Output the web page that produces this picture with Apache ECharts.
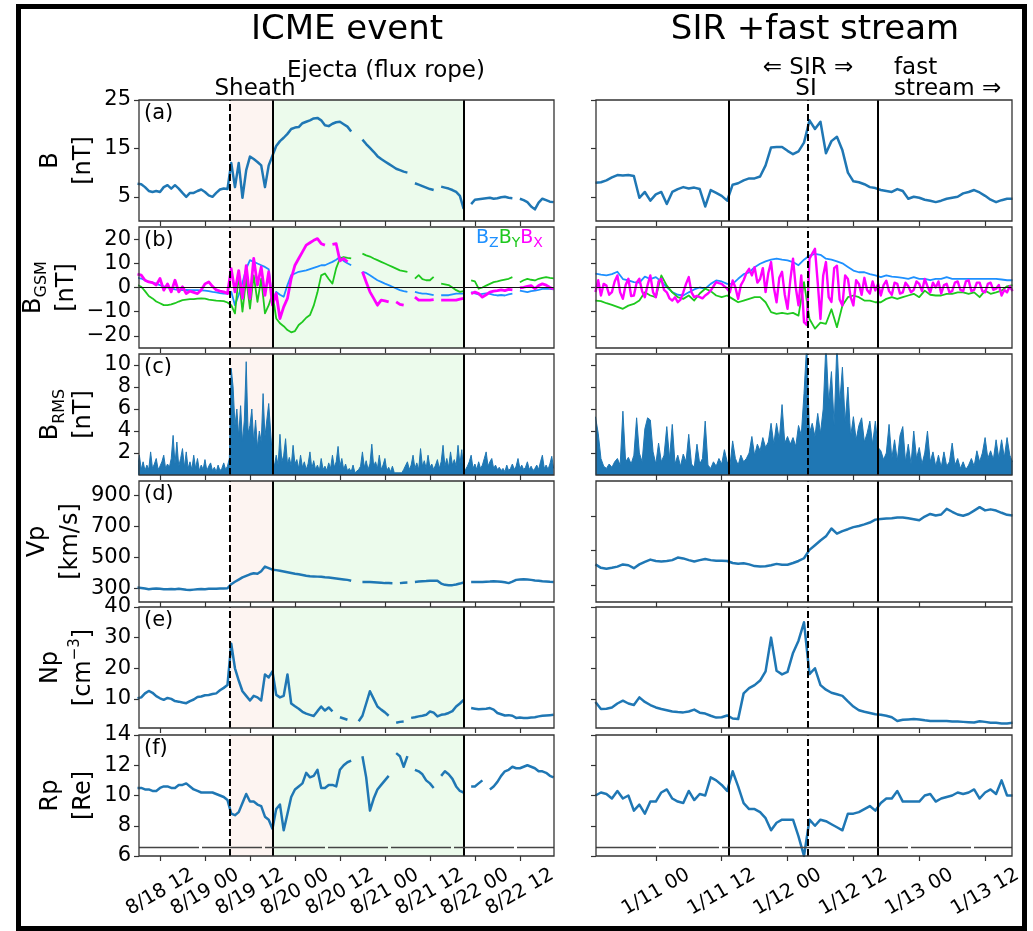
<!DOCTYPE html>
<html>
<head>
<meta charset="utf-8">
<script src="https://cdn.jsdelivr.net/npm/echarts@6/dist/echarts.min.js"></script>
<style>
  html, body { margin: 0; padding: 0; background: #fff; }
  #chart { width: 1033px; height: 931px; }
</style>
</head>
<body>
<div id="chart"></div>
<script>
// ---------------------------------------------------------------
// Solar-wind overview: ICME event (left) and SIR + fast stream (right)
// Time is in hours: ICME side counted from 8/18 00:00, SIR side from 1/11 00:00
// ---------------------------------------------------------------

const ICME_T0 = 6;     // first sample hour (ICME side), 1 h cadence
const SIR_T0 = -11;    // first sample hour (SIR side), 1 h cadence
const HALF_STEP = 0.5; // cadence of the half-hour series (h)

const icmeXRange = [6.4, 117.1];
const sirXRange = [-10.9, 64.9];

// event boundaries (hours)
const icmeBounds = { sheathStart: 30.7, ejectaStart: 42.05, ejectaEnd: 93.15 };
const sirBounds = { sirStart: 13.2, streamInterface: 27.6, fastStart: 40.5 };

// x tick positions and labels
const icmeTickHours = [12, 24, 36, 48, 60, 72, 84, 96, 108];
const icmeTickLabels = ['8/18 12', '8/19 00', '8/19 12', '8/20 00', '8/20 12', '8/21 00', '8/21 12', '8/22 00', '8/22 12'];
const sirTickHours = [0, 12, 24, 36, 48, 60];
const sirTickLabels = ['1/11 00', '1/11 12', '1/12 00', '1/12 12', '1/13 00', '1/13 12'];

// y tick values per row
const bTicks = [5, 15, 25];
const bgsmTicks = [-20, -10, 0, 10, 20];
const brmsTicks = [2, 4, 6, 8, 10];
const vpIcmeTicks = [300, 500, 700, 900];
const vpSirTicks = [400, 600, 800];
const npTicks = [10, 20, 30, 40];
const rpTicks = [6, 8, 10, 12, 14];

// ---------------- (a) |B| [nT] ----------------
const bIcme = [
  7.7, 7.6, 7.0, 6.2, 6.0, 6.2, 6.0, 7.0, 7.4, 6.7,
  7.4, 6.7, 5.8, 5.0, 5.8, 5.8, 6.2, 6.5, 6.0, 5.3,
  5.0, 5.8, 6.5, 6.7, 6.6, 12.0, 7.0, 12.0, 4.8, 10.5,
  13.3, 12.8, 12.2, 11.5, 7.0, 11.5, 13.5, 15.5, 16.5, 17.2,
  18.0, 19.0, 19.3, 19.4, 20.2, 20.5, 20.8, 21.2, 21.3, 20.8,
  19.8, 19.6, 20.1, 20.4, 20.5, 20.0, 19.5, 18.5, null, null,
  16.8, 15.9, 15.1, 14.3, 13.4, 12.8, 12.3, 11.8, 11.3, 10.8,
  10.5, 10.2, 10.0, null, 7.8, 7.5, 7.2, 6.9, 6.6, 6.4,
  null, 7.1, 6.9, 6.7, 6.4, 6.0, 5.2, 2.5, null, 3.5,
  4.4, 4.5, 4.6, 4.7, 4.8, 4.6, 4.7, 4.9, 5.0, 4.8,
  4.7, null, 4.6, 4.3, 3.9, 3.0, 2.4, 3.8, 4.6, 4.3,
  4.0, 3.9
];
const bSir = [
  7.9, 8.0, 8.4, 9.0, 9.5, 9.4, 9.5, 9.3, 4.8, 6.0,
  4.2, 5.5, 6.0, 3.5, 6.0, 6.6, 7.0, 6.7, 6.9, 6.6,
  3.0, 6.4, 5.8, 5.2, 4.2, 7.5, 7.8, 8.4, 8.8, 8.8,
  9.2, 11.5, 15.2, 15.3, 15.3, 14.5, 13.8, 14.4, 16.2, 20.8,
  19.0, 20.5, 14.0, 16.5, 17.4, 14.6, 10.0, 8.2, 8.0, 7.6,
  7.0, 6.8, 6.4, 6.2, 6.0, 6.6, 6.2, 4.6, 5.0, 4.8,
  4.4, 4.2, 3.9, 4.2, 4.6, 4.8, 5.0, 5.7, 6.0, 6.4,
  5.9, 5.2, 4.4, 3.9, 4.3, 4.6, 4.6
];

// ---------------- (b) B_GSM components [nT] ----------------
const bzIcme = [
  4.0, 3.7, 3.0, 2.3, 2.0, 1.6, 1.0, 0.5, 0.0, -0.4,
  -0.8, -1.1, -1.1, -1.0, -1.1, -1.1, -1.1, -1.2, -1.3, -1.5,
  -1.8, -2.0, -2.3, -2.5, -2.5, -1.8, -7.3, -3.0, 2.0, 7.8,
  11.3, 10.6, 9.9, 9.2, 8.5, 7.5, -6.0, -1.8, -3.0, -3.8,
  1.0, 5.1, 5.8, 6.5, 6.8, 7.1, 7.6, 8.1, 8.6, 9.2,
  9.2, 9.9, 10.6, 11.5, 12.6, 11.0, 10.0, 9.2, null, null,
  6.5, 6.0, 5.1, 4.0, 3.0, 2.3, 1.6, 1.0, 0.3, -0.4,
  -1.1, -1.5, -1.8, null, -1.8, -2.2, -2.5, -2.5, -2.8, -3.2,
  null, -3.2, -3.2, -3.2, -2.8, -2.5, -2.5, -2.5, null, -1.9,
  -2.4, -2.9, -2.6, -2.4, -2.6, -3.0, -3.3, -3.1, -3.3, -2.8,
  -2.5, null, -1.3, -1.6, -1.9, -1.5, -1.3, -1.0, -0.6, -0.6,
  -0.6, -0.8
];
const byIcme = [
  1.0, 0.3, -1.5, -3.5, -4.5, -5.8, -6.5, -7.3, -7.3, -7.0,
  -6.5, -5.8, -5.2, -5.0, -4.8, -4.8, -4.6, -4.5, -4.6, -5.0,
  -5.2, -5.4, -5.5, -5.6, -6.2, -7.3, -10.7, 5.0, -10.0, 3.7,
  -8.7, 5.0, -5.9, 3.7, -10.7, -7.3, -2.5, -12.8, -14.8, -16.0,
  -17.6, -18.5, -18.0, -15.5, -14.2, -12.5, -11.4, -7.5, -2.0, 5.0,
  5.8, 3.5, 1.6, 8.0, 12.0, 12.6, 12.2, 12.0, null, null,
  14.0, 13.3, 12.8, 12.0, 11.3, 10.6, 9.9, 9.2, 8.5, 7.8,
  7.1, 6.8, 6.5, null, 3.7, 5.1, 3.5, 3.0, 3.0, 4.4,
  null, 1.6, 1.3, 1.0, 0.0, -1.1, -1.8, -1.5, null, 2.9,
  2.5, -0.5, 0.0, 0.8, 1.5, 2.2, 2.5, 2.9, 3.3, 3.6,
  4.3, null, 2.2, 3.0, 3.6, 3.2, 2.9, 3.6, 4.0, 4.3,
  4.0, 3.8
];
const bxIcme = [
  5.5, 5.1, 3.0, 2.3, 2.0, 1.0, 3.7, -1.1, 1.5, -1.8,
  3.0, -1.8, 0.3, -2.5, -1.5, -2.0, -2.5, -1.0, 1.5, 2.3,
  0.5, -1.0, -1.5, -1.8, -2.5, 7.8, -1.8, 7.0, -4.5, 9.0,
  -4.5, 12.0, 1.0, 8.5, -3.2, 6.5, -7.3, -2.5, -12.8, -8.0,
  -4.5, 3.7, 9.2, 12.0, 14.7, 17.5, 18.5, 19.5, 20.2, 18.1,
  17.5, null, 17.8, 18.1, 11.0, 12.0, 10.6, null, null, null,
  6.5, 2.3, -1.8, -4.5, -7.3, -5.2, -5.5, -5.9, null, -5.9,
  -7.0, -7.3, null, null, -4.0, -5.2, -5.2, -5.2, -5.2, -5.0,
  null, -5.2, -5.2, -5.2, -5.2, -5.2, -4.8, -4.5, null, -2.6,
  -1.9, -2.5, -4.0, -3.0, -1.9, -1.5, -1.3, -1.0, -1.3, -0.8,
  -1.0, null, -0.2, 0.1, 0.5, 0.8, -0.5, 0.8, 1.5, 1.0,
  0.0, -0.6
];
const bzSir = [
  5.7, 5.3, 5.0, 5.5, 6.5, 3.5, 2.9, 2.2, 2.0, 4.5,
  3.5, 4.3, 2.5, 0.2, -1.9, -3.0, -3.3, -2.0, -0.8, 0.0,
  -0.5, 1.5, 2.9, 2.5, 1.5, 1.5, 3.6, 5.5, 6.2, 8.4,
  9.8, 10.8, 11.5, 11.9, 11.5, 11.2, 10.5, 9.2, 11.5, 13.2,
  13.9, 13.5, 11.9, 11.5, 10.8, 10.0, 8.5, 7.0, 6.3, 6.3,
  5.5, 5.0, 4.3, 5.0, 4.5, 4.3, 4.0, 3.6, 4.3, 3.6,
  3.6, 3.0, 3.6, 3.6, 4.3, 3.6, 3.6, 3.6, 3.6, 3.6,
  3.6, 3.6, 3.6, 3.6, 3.3, 3.0, 3.0
];
const bySir = [
  -5.4, -5.6, -6.5, -7.2, -8.0, -8.8, -7.5, -6.8, -5.4, -2.0,
  -3.3, -4.0, 5.0, 0.8, -2.0, -4.0, -4.7, -3.3, -5.4, -2.5,
  -0.5, -1.5, -3.3, -4.0, -3.3, -4.7, -6.1, -5.4, -4.7, -4.0,
  -4.0, -6.1, -10.2, -10.9, -10.5, -10.9, -10.5, -11.6, 2.2, -13.0,
  -17.0, -14.5, -15.0, -9.0, -16.4, -7.4, -4.0, -3.3, -4.0, -5.4,
  -5.4, -6.1, -6.1, -4.7, -4.0, -4.7, -4.0, -3.3, -2.6, -4.0,
  -1.3, -3.0, -3.3, -3.3, -2.6, -2.6, -2.0, -2.0, -2.6, -2.0,
  -4.0, -1.3, -2.6, -2.0, -1.3, 0.5, 1.0
];
// Bx on the SIR side at half-hour cadence
const bxSir = [
  -1.9, 3.0, -3.3, 1.5, 0.8, -3.0, -1.9, 2.5, 5.0, -2.0,
  -4.7, 1.0, 3.6, -3.5, -3.3, 2.0, 3.6, -1.5, -4.0, 1.0,
  5.0, -2.0, -4.0, 2.5, 3.6, -1.0, -2.0, -4.5, -5.4, -4.0,
  -6.1, -5.0, -2.0, 1.5, 4.3, -2.0, -4.0, -3.5, -4.0, -4.5,
  -3.3, -2.5, -1.3, 0.5, 2.2, 1.8, 1.5, 0.5, -0.5, -2.0,
  2.9, 0.0, -4.7, 1.0, 3.0, 6.0, 7.7, 5.0, 8.4, 2.0,
  3.5, 8.0, -1.9, 6.0, 10.5, 0.0, -6.1, 4.0, 6.5, -3.0,
  -8.8, 3.0, 11.9, 0.0, -7.4, 5.0, -14.3, -15.5, 11.9, 14.0,
  16.0, 2.0, -13.0, 5.0, 10.5, -4.0, -6.0, 8.0, 9.0, -5.0,
  -7.4, 5.0, 3.5, -4.0, -7.4, 3.0, 1.5, -3.0, 4.0, -1.0,
  -2.5, 2.5, -1.2, 1.5, -3.3, 1.0, 2.8, -1.5, -3.0, 2.0,
  1.5, -2.5, -2.0, 2.0, 0.5, -2.0, -1.0, 2.5, 1.5, -1.5,
  3.5, 0.5, -2.0, 2.0, 0.0, 2.5, -2.5, 1.0, 1.5, -2.0,
  -1.5, 2.0, 2.5, -1.0, -1.5, 2.5, 3.0, -1.5, -1.0, 2.0,
  2.0, -1.5, -2.0, 1.5, 2.0, -1.0, -0.5, 1.0, -3.3, -1.0,
  -2.0, 0.5, -1.5
];

// ---------------- (c) B_RMS [nT], half-hour cadence ----------------
const rmsIcme = [
  0.6, 1.8, 0.5, 1.2, 0.4, 0.9, 0.5, 2.1, 0.6, 1.0,
  1.5, 0.5, 0.8, 1.2, 1.8, 0.6, 1.0, 0.7, 1.5, 3.6,
  1.0, 3.0, 0.8, 1.5, 2.4, 0.7, 2.1, 0.6, 1.2, 0.5,
  1.8, 0.6, 1.5, 0.4, 0.9, 0.5, 1.4, 0.4, 0.8, 1.1,
  0.4, 0.7, 0.3, 0.9, 0.4, 0.6, 1.1, 0.5, 0.8, 1.5,
  9.7, 8.0, 4.5, 6.0, 3.5, 6.3, 3.0, 5.0, 10.3, 3.8,
  4.5, 6.0, 3.0, 5.0, 2.5, 4.0, 3.0, 7.4, 3.5, 5.0,
  6.5, 4.0, 1.5, 0.8, 1.8, 0.9, 3.7, 1.2, 1.8, 3.3,
  1.0, 1.6, 0.8, 2.7, 1.0, 1.4, 0.6, 1.8, 0.7, 1.2,
  0.5, 1.0, 2.1, 0.6, 1.3, 0.5, 0.9, 0.4, 1.5, 0.5,
  0.8, 0.4, 1.1, 0.6, 1.8, 0.7, 1.2, 2.6, 0.8, 1.5,
  0.5, 1.0, 0.4, 0.6, 0.3, 0.9, 0.2, 0.3, 0.5, 0.8,
  2.1, 0.7, 1.3, 0.5, 1.0, 2.8, 0.8, 1.2, 0.6, 1.8,
  0.5, 0.9, 1.5, 0.4, 0.7, 0.3, 0.8, 0.2, 0.3, 0.2,
  0.3, 0.2, 0.5, 0.4, 1.2, 0.5, 0.9, 1.8, 0.6, 1.1,
  0.5, 2.4, 0.8, 1.3, 0.6, 1.8, 0.7, 1.0, 0.5, 0.9,
  1.4, 0.6, 1.2, 2.7, 0.8, 1.5, 0.7, 2.1, 0.9, 1.4,
  0.8, 2.7, 1.0, 2.3, 0.3, 0.5, 0.8, 1.2, 1.8, 0.6,
  1.0, 0.5, 1.2, 0.6, 0.9, 1.5, 2.1, 0.8, 1.2, 1.5,
  0.6, 0.9, 0.5, 0.7, 0.4, 0.6, 0.3, 0.9, 0.4, 0.6,
  1.0, 0.5, 0.8, 1.5, 0.6, 0.9, 0.5, 0.7, 1.2, 0.5,
  0.8, 0.4, 0.6, 0.9, 0.5, 1.2, 1.8, 0.6, 0.9, 0.5,
  1.0, 1.7, 0.6
];
const rmsSir = [
  5.3, 3.8, 1.5, 0.8, 0.6, 1.0, 0.7, 1.2, 1.5, 0.9,
  5.8, 1.2, 1.6, 1.0, 1.8, 5.2, 2.0, 1.2, 4.2, 5.2,
  5.0, 2.1, 1.0, 2.9, 1.2, 1.8, 4.4, 1.5, 4.6, 1.0,
  1.8, 0.8, 1.9, 1.2, 3.7, 1.0, 0.7, 2.8, 1.0, 1.5,
  4.9, 0.9, 0.6, 1.2, 0.8, 1.5, 1.0, 2.3, 1.2, 0.8,
  3.1, 1.5, 0.9, 1.8, 1.2, 1.5, 2.0, 3.5, 1.8, 2.8,
  2.2, 3.4, 2.5, 3.0, 4.7, 2.8, 4.7, 3.2, 6.4, 2.9,
  3.5, 2.8, 3.4, 2.6, 4.5, 3.6, 7.4, 12.0, 3.8, 4.7,
  3.5, 5.6, 3.8, 6.0, 12.0, 6.5, 9.4, 4.5, 12.0, 6.5,
  9.8, 4.8, 8.0, 3.5, 5.3, 3.2, 4.5, 5.2, 3.0, 3.8,
  4.9, 2.8, 4.9, 2.5, 2.2, 1.4, 2.0, 4.6, 1.5, 3.2,
  1.3, 3.6, 4.4, 1.2, 2.8, 1.0, 4.0, 1.5, 2.5, 1.0,
  2.0, 4.0, 1.2, 2.1, 0.8, 1.8, 0.7, 2.1, 0.8, 1.2,
  2.9, 0.9, 1.5, 0.6, 1.2, 0.5, 0.9, 1.5, 0.8, 2.2,
  1.2, 2.0, 3.4, 1.5, 2.2, 1.4, 3.2, 1.5, 3.2, 1.6,
  3.4, 1.8, 1.2
];

// ---------------- (d) Vp [km/s] ----------------
const vpIcme = [
  304, 302, 298, 294, 296, 298, 296, 294, 293, 295,
  294, 296, 293, 290, 289, 291, 293, 295, 294, 296,
  297, 296, 298, 299, 300, 326, 342, 356, 370, 380,
  390, 397, 393, 410, 440, 430, 420, 417, 413, 408,
  403, 398, 393, 390, 386, 381, 377, 376, 375, 374,
  371, 369, 366, 363, 360, 357, 354, 348, null, null,
  341, 341, 341, 339, 337, 335, 333, 333, 332, null,
  333, 336, 337, null, 341, 343, 345, 346, 348, 348,
  348, 330, 322, 319, 320, 324, 330, 337, null, 341,
  341, 341, 341, 342, 343, 345, 344, 342, 338, 333,
  343, 354, 356, 358, 356, 354, 350, 348, 345, 344,
  342, 341
];
const vpSir = [
  520, 500, 494, 500, 507, 520, 515, 498, 520, 535,
  548, 540, 537, 540, 545, 560, 555, 545, 537, 545,
  552, 545, 542, 542, 540, 528, 524, 527, 520, 510,
  508, 509, 515, 523, 518, 518, 528, 540, 556, 605,
  632, 660, 684, 730, 700, 715, 726, 738, 745, 754,
  765, 782, 786, 788, 790, 795, 794, 790, 784, 778,
  800, 815, 806, 812, 845, 828, 812, 805, 815, 835,
  855, 836, 842, 835, 822, 810, 806
];

// ---------------- (e) Np [cm^-3] ----------------
const npIcme = [
  10.2, 10.5, 11.8, 12.6, 12.0, 10.9, 10.2, 9.7, 10.3, 10.0,
  9.3, 9.1, 8.8, 8.6, 9.3, 9.8, 10.6, 10.8, 11.2, 11.3,
  11.6, 11.8, 12.8, 13.6, 14.5, 28.0, 20.0, 16.0, 12.5, 11.0,
  9.5, 11.0, 10.5, 9.5, 18.0, 17.0, 19.0, 11.3, 10.5, 11.0,
  18.0, 8.5, 7.6, 6.8, 5.8, 5.2, 4.8, 4.4, 6.0, 7.5,
  6.2, 7.2, 5.9, null, 4.0, 3.6, 3.2, null, null, 2.7,
  4.5, 8.5, 12.5, 10.0, 7.5, 6.5, 5.6, 4.5, null, 2.2,
  2.5, 2.6, null, 3.8, 4.0, 4.3, 4.5, 4.8, 5.9, 5.5,
  4.3, 4.8, 5.0, 5.4, 6.0, 7.5, 8.5, 9.7, null, 7.0,
  6.8, 6.6, 6.7, 6.8, 7.0, 6.5, 5.4, 5.0, 4.6, 4.7,
  4.5, 3.8, 3.9, 3.8, 3.8, 3.9, 4.0, 4.3, 4.5, 4.6,
  4.7, 4.8
];
const npSir = [
  9.0, 6.7, 6.8, 7.2, 8.5, 9.4, 8.5, 8.0, 10.5, 9.0,
  8.0, 7.2, 6.7, 6.3, 5.9, 5.7, 5.6, 5.9, 6.5, 5.5,
  5.2, 4.5, 3.9, 4.0, 4.6, 3.6, 3.4, 11.8, 13.5, 14.5,
  16.0, 19.0, 30.0, 19.2, 18.0, 18.8, 25.0, 29.0, 35.0, 18.1,
  20.0, 14.5, 13.0, 12.0, 11.5, 11.0, 9.2, 7.5, 6.3, 5.8,
  5.4, 5.0, 4.8, 4.5, 4.0, 2.8, 3.2, 3.3, 3.4, 3.3,
  3.0, 2.8, 2.8, 2.8, 2.8, 2.6, 2.6, 2.5, 2.4, 2.3,
  2.7, 2.5, 2.2, 2.2, 2.0, 2.0, 2.2
];

// ---------------- (f) Rp [Re] ----------------
const rpIcme = [
  10.5, 10.5, 10.4, 10.4, 10.3, 10.3, 10.5, 10.6, 10.6, 10.5,
  10.5, 10.7, 10.7, 10.8, 10.6, 10.4, 10.3, 10.2, 10.2, 10.2,
  10.2, 10.1, 10.0, 9.9, 9.7, 8.8, 8.7, 8.9, 9.5, 10.1,
  9.6, 9.6, 9.4, 9.3, 8.6, 8.4, 7.8, 9.1, 9.4, 7.7,
  8.8, 9.9, 10.4, 10.6, 10.8, 11.5, 11.2, 11.3, 11.7, 10.5,
  10.5, 10.7, 10.7, 10.6, 11.7, 12.0, 12.2, 12.3, null, null,
  12.6, 11.2, 9.0, 9.8, 10.4, 10.7, 11.0, 11.3, null, 12.8,
  12.6, 11.9, 12.6, null, 11.7, 11.6, 11.4, 11.0, 10.8, 10.5,
  null, 11.3, 11.6, 11.4, 11.1, 10.6, 10.3, 10.2, null, 10.6,
  10.6, 10.8, 11.0, null, 10.4, 10.6, 10.9, 11.3, 11.6, 11.7,
  11.9, 11.8, 11.8, 11.9, 12.0, 11.9, 11.8, 11.6, 11.6, 11.5,
  11.3, 11.2
];
const rpSir = [
  10.0, 10.2, 10.1, 9.8, 10.3, 9.8, 10.0, 9.0, 9.4, 8.8,
  9.6, 9.6, 10.2, 10.4, 9.8, 9.6, 9.5, 10.3, 9.7, 10.1,
  10.0, 11.2, 11.0, 10.7, 10.3, 11.6, 10.6, 9.5, 9.1, 9.1,
  8.9, 8.5, 7.7, 8.2, 8.4, 8.4, 8.4, 7.3, 6.0, 8.4,
  8.0, 8.4, 8.3, 8.1, 7.9, 7.7, 8.8, 8.8, 8.9, 9.1,
  9.3, 9.0, 9.5, 9.8, 9.8, 10.3, 9.6, 9.6, 9.6, 9.6,
  10.0, 10.1, 9.6, 9.8, 9.9, 10.0, 10.2, 10.1, 10.2, 10.4,
  9.8, 10.2, 10.4, 10.1, 11.0, 10.0, 10.0
];
const rpReference = 6.6; // horizontal reference level in panel (f)

// ---------------------------------------------------------------
// styling / layout
// ---------------------------------------------------------------
const FONT = 'DejaVu Sans';
const LINE_BLUE = '#1f77b4';
const BZ_COLOR = '#1e90ff';
const BY_COLOR = '#1ec81e';
const BX_COLOR = '#ff00ff';
const SHEATH_FILL = '#fdf4f1';
const EJECTA_FILL = '#ecfbec';
const FRAME = '#333333';

const ROW_TOPS = [100, 227, 354, 481, 607, 735];
const ROW_H = 121;
const COLS = [{ left: 139, width: 415 }, { left: 596, width: 416 }];

function toPoints(t0, dt, values) {
  return values.map((v, i) => [t0 + i * dt, v]);
}
function minusFmt(v) {
  return v < 0 ? '\u2212' + Math.abs(v) : String(v);
}

const NAME_RICH = {
  t: { fontSize: 24, fontFamily: FONT, color: '#000', lineHeight: 33 },
  s: { fontSize: 16, fontFamily: FONT, color: '#000', lineHeight: 22, verticalAlign: 'bottom' },
  p: { fontSize: 15, fontFamily: FONT, color: '#000', lineHeight: 20, verticalAlign: 'top' }
};

const MAIN_W = 2.5;

const rows = [
  {
    label: '(a)', name: '{t|B}\n{t|[nT]}',
    y: { min: 0, max: 25, ticks: bTicks },
    icme: [{ data: toPoints(ICME_T0, 1, bIcme), color: LINE_BLUE, width: MAIN_W }],
    sir: [{ data: toPoints(SIR_T0, 1, bSir), color: LINE_BLUE, width: MAIN_W }]
  },
  {
    label: '(b)', name: '{t|B}{s|GSM}\n{t|[nT]}',
    y: { min: -25, max: 25, ticks: bgsmTicks },
    hline: { value: 0, color: '#111', width: 1.2, type: 'solid' },
    icme: [
      { data: toPoints(ICME_T0, 1, bzIcme), color: BZ_COLOR, width: 1.8 },
      { data: toPoints(ICME_T0, 1, byIcme), color: BY_COLOR, width: 1.8 },
      { data: toPoints(ICME_T0, 1, bxIcme), color: BX_COLOR, width: 2.8 }
    ],
    sir: [
      { data: toPoints(SIR_T0, 1, bzSir), color: BZ_COLOR, width: 1.8 },
      { data: toPoints(SIR_T0, 1, bySir), color: BY_COLOR, width: 1.8 },
      { data: toPoints(SIR_T0, HALF_STEP, bxSir), color: BX_COLOR, width: 2.4 }
    ]
  },
  {
    label: '(c)', name: '{t|B}{s|RMS}\n{t|[nT]}',
    y: { min: 0, max: 11, ticks: brmsTicks },
    icme: [{ data: toPoints(ICME_T0, HALF_STEP, rmsIcme), color: LINE_BLUE, width: 1, area: true }],
    sir: [{ data: toPoints(SIR_T0, HALF_STEP, rmsSir), color: LINE_BLUE, width: 1, area: true }]
  },
  {
    label: '(d)', name: '{t|Vp}\n{t|[km/s]}',
    y: { min: 211, max: 993, ticks: vpIcmeTicks },
    ySir: { min: 300, max: 1008, ticks: vpSirTicks },
    icme: [{ data: toPoints(ICME_T0, 1, vpIcme), color: LINE_BLUE, width: MAIN_W }],
    sir: [{ data: toPoints(SIR_T0, 1, vpSir), color: LINE_BLUE, width: MAIN_W }]
  },
  {
    label: '(e)', name: '{t|Np}\n{t|[cm}{p|\u22123}{t|]}',
    y: { min: 0.5, max: 40, ticks: npTicks },
    icme: [{ data: toPoints(ICME_T0, 1, npIcme), color: LINE_BLUE, width: MAIN_W }],
    sir: [{ data: toPoints(SIR_T0, 1, npSir), color: LINE_BLUE, width: MAIN_W }]
  },
  {
    label: '(f)', name: '{t|Rp}\n{t|[Re]}',
    y: { min: 6, max: 14, ticks: rpTicks },
    hline: { value: rpReference, color: '#444', width: 1.4, type: [60, 3] },
    icme: [{ data: toPoints(ICME_T0, 1, rpIcme), color: LINE_BLUE, width: MAIN_W }],
    sir: [{ data: toPoints(SIR_T0, 1, rpSir), color: LINE_BLUE, width: MAIN_W }]
  }
];

const option = {
  animation: false,
  backgroundColor: '#ffffff',
  grid: [], xAxis: [], yAxis: [], series: [], graphic: []
};

rows.forEach((row, r) => {
  [0, 1].forEach((c) => {
    const gi = r * 2 + c;
    const isIcme = c === 0;
    const col = COLS[c];
    const tickHours = isIcme ? icmeTickHours : sirTickHours;
    const tickLabels = isIcme ? icmeTickLabels : sirTickLabels;
    const xr = isIcme ? icmeXRange : sirXRange;
    const ya = (!isIcme && row.ySir) ? row.ySir : row.y;

    option.grid.push({
      left: col.left, top: ROW_TOPS[r], width: col.width, height: ROW_H,
      show: true, borderColor: FRAME, borderWidth: 1.3, backgroundColor: 'transparent',
      z: 8, containLabel: false, outerBoundsMode: 'none'
    });

    option.xAxis.push({
      type: 'value', gridIndex: gi, min: xr[0], max: xr[1], position: 'bottom',
      axisLine: { show: false, onZero: false }, splitLine: { show: false },
      axisTick: { show: true, customValues: tickHours, length: 5, lineStyle: { color: FRAME, width: 1.2 } },
      axisLabel: {
        show: r === rows.length - 1, customValues: tickHours,
        formatter: (v) => tickLabels[tickHours.indexOf(Math.round(v))],
        rotate: 30, align: 'center', verticalAlign: 'middle', margin: 36,
        fontSize: 19.5, fontFamily: FONT, color: '#000'
      }
    });

    option.yAxis.push({
      type: 'value', gridIndex: gi, min: ya.min, max: ya.max, position: 'left',
      axisLine: { show: false, onZero: false }, splitLine: { show: false },
      axisTick: { show: true, customValues: ya.ticks, length: 5, lineStyle: { color: FRAME, width: 1.2 } },
      axisLabel: {
        show: isIcme, customValues: ya.ticks, formatter: minusFmt,
        fontSize: 21, fontFamily: FONT, color: '#000', margin: 8
      },
      name: isIcme ? row.name : '',
      nameLocation: 'middle', nameRotate: 90, nameGap: 35,
      nameTextStyle: { fontSize: 24, fontFamily: FONT, color: '#000', lineHeight: 33, rich: NAME_RICH }
    });

    // shaded sheath / ejecta intervals (ICME side only)
    if (isIcme) {
      option.series.push({
        type: 'line', xAxisIndex: gi, yAxisIndex: gi, data: [], z: 1, silent: true,
        markArea: {
          silent: true,
          data: [
            [{ xAxis: icmeBounds.sheathStart, itemStyle: { color: SHEATH_FILL } }, { xAxis: icmeBounds.ejectaStart }],
            [{ xAxis: icmeBounds.ejectaStart, itemStyle: { color: EJECTA_FILL } }, { xAxis: icmeBounds.ejectaEnd }]
          ]
        }
      });
    }

    // data traces
    (isIcme ? row.icme : row.sir).forEach((s) => {
      const item = {
        type: 'line', xAxisIndex: gi, yAxisIndex: gi, data: s.data,
        showSymbol: false, symbol: 'none', silent: true, clip: true, z: 3,
        lineStyle: { color: s.color, width: s.width, join: 'round' },
        itemStyle: { color: s.color }
      };
      if (s.area) item.areaStyle = { color: s.color, opacity: 1 };
      option.series.push(item);
    });

    // event boundary lines and reference level
    const lines = isIcme
      ? [
          { xAxis: icmeBounds.sheathStart, lineStyle: { type: [7, 3] } },
          { xAxis: icmeBounds.ejectaStart },
          { xAxis: icmeBounds.ejectaEnd }
        ]
      : [
          { xAxis: sirBounds.sirStart },
          { xAxis: sirBounds.streamInterface, lineStyle: { type: [7, 3] } },
          { xAxis: sirBounds.fastStart }
        ];
    if (row.hline) {
      lines.push({ yAxis: row.hline.value, lineStyle: { color: row.hline.color, width: row.hline.width, type: row.hline.type } });
    }
    option.series.push({
      type: 'line', xAxisIndex: gi, yAxisIndex: gi, data: [], z: 6, silent: true,
      markLine: {
        silent: true, symbol: ['none', 'none'], label: { show: false },
        emphasis: { disabled: true },
        lineStyle: { color: '#000', width: 2, type: 'solid' },
        data: lines
      }
    });

    // panel letter
    if (isIcme) {
      option.graphic.push({
        type: 'text', x: col.left + 5, y: ROW_TOPS[r] + 14, z: 20,
        style: { text: row.label, fontSize: 21, fontFamily: FONT, fill: '#000', align: 'left', verticalAlign: 'middle' }
      });
    }
  });
});

// component key for panel (b)
option.graphic.push({
  type: 'text', x: 476, y: 238, z: 20,
  style: {
    text: '{z|B}{zs|Z}{y|B}{ys|Y}{x|B}{xs|X}',
    align: 'left', verticalAlign: 'middle',
    rich: {
      z: { fontSize: 19, fontFamily: FONT, fill: BZ_COLOR, lineHeight: 24 },
      zs: { fontSize: 14, fontFamily: FONT, fill: BZ_COLOR, lineHeight: 16, verticalAlign: 'bottom' },
      y: { fontSize: 19, fontFamily: FONT, fill: BY_COLOR, lineHeight: 24 },
      ys: { fontSize: 14, fontFamily: FONT, fill: BY_COLOR, lineHeight: 16, verticalAlign: 'bottom' },
      x: { fontSize: 19, fontFamily: FONT, fill: BX_COLOR, lineHeight: 24 },
      xs: { fontSize: 14, fontFamily: FONT, fill: BX_COLOR, lineHeight: 16, verticalAlign: 'bottom' }
    }
  }
});

// headings and interval annotations
const headings = [
  { text: 'ICME event', x: 347, y: 30, size: 34, align: 'center' },
  { text: 'SIR +fast stream', x: 815, y: 30, size: 34, align: 'center' },
  { text: 'Ejecta (flux rope)', x: 386, y: 71, size: 23, align: 'center' },
  { text: 'Sheath', x: 255, y: 89, size: 23, align: 'center' },
  { text: '\u21D0 SIR \u21D2', x: 808, y: 68, size: 23, align: 'center' },
  { text: 'SI', x: 806, y: 89, size: 23, align: 'center' },
  { text: 'fast', x: 894, y: 68, size: 23, align: 'left' },
  { text: 'stream \u21D2', x: 894, y: 89, size: 23, align: 'left' }
];
headings.forEach((h) => {
  option.graphic.push({
    type: 'text', x: h.x, y: h.y, z: 20,
    style: { text: h.text, fontSize: h.size, fontFamily: FONT, fill: '#000', align: h.align, verticalAlign: 'middle' }
  });
});

// outer figure frame
option.graphic.push({
  type: 'rect', z: 30, silent: true,
  shape: { x: 18.5, y: 6.5, width: 1006, height: 922 },
  style: { fill: 'none', stroke: '#000', lineWidth: 5 }
});

const chart = echarts.init(document.getElementById('chart'), null, { renderer: 'canvas', width: 1033, height: 931 });
chart.setOption(option);
</script>
</body>
</html>
